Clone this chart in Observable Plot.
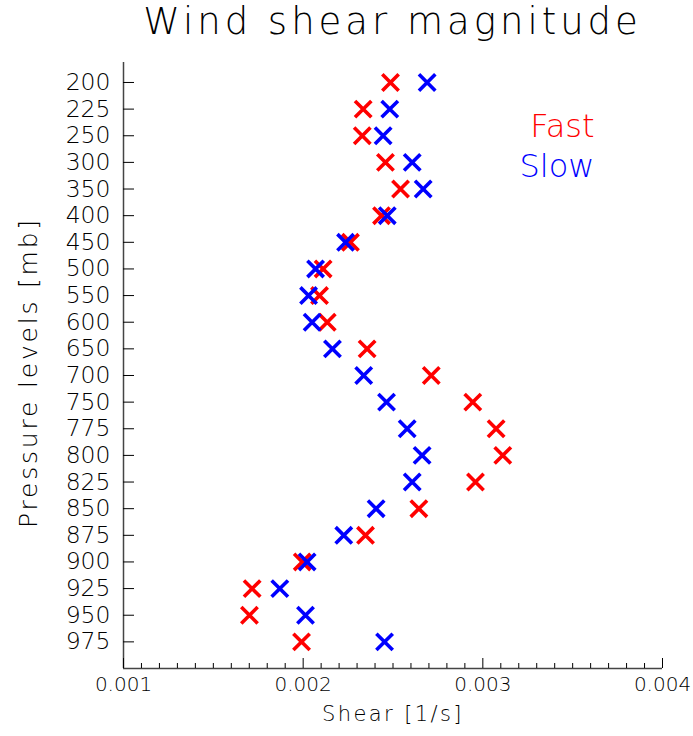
<!DOCTYPE html>
<html><head><meta charset="utf-8">
<script src="https://cdn.jsdelivr.net/npm/d3@7"></script>
<script src="https://cdn.jsdelivr.net/npm/@observablehq/plot@0.6"></script>
<style>
body{margin:0;background:#fff;}
#wrap{position:relative;width:693px;height:736px;overflow:hidden;}
#title{position:absolute;left:113px;width:559px;top:0;height:50px;text-align:center;font-family:"DejaVu Sans";font-weight:200;font-size:37px;line-height:44px;letter-spacing:4px;color:#000;}
#chart{position:absolute;top:50px;left:0;}
</style></head><body>
<div id="wrap"><div id="title">Wind shear magnitude</div><div id="chart"></div></div>
<script>
const levels = [200,225,250,300,350,400,450,500,550,600,650,700,750,775,800,825,850,875,900,925,950,975];
const fast = [0.002486,0.002334,0.002329,0.002458,0.002542,0.002436,0.002263,0.002111,0.002091,0.002134,0.002356,0.002713,0.002944,0.003074,0.003111,0.002959,0.002644,0.002347,0.001995,0.001716,0.001701,0.001991];
const slow = [0.002690,0.002482,0.002445,0.002607,0.002668,0.002468,0.002236,0.002069,0.002030,0.002050,0.002163,0.002337,0.002464,0.002579,0.002662,0.002607,0.002406,0.002226,0.002022,0.001870,0.002013,0.002453];
const xTicks = [0.001,0.002,0.003,0.004];
const xMinor = d3.range(11,40).map(k=>k/10000).filter(v=>Math.round(v*10000)%10!==0);
const seriesNames = ["Fast","Slow"];
const seriesColors = ["#ff0000","#0000ff"];

const fastRows = levels.map((p,i)=>({i, p, v: fast[i]}));
const slowRows = levels.map((p,i)=>({i, p, v: slow[i]}));
const W = 693, H = 686, mL = 123, mR = 31, mT = 12, mB = 68;
const fw = W - mL - mR, fh = H - mT - mB;

const chart = Plot.plot({
  width: W, height: H,
  marginLeft: mL, marginRight: mR, marginTop: mT, marginBottom: mB,
  style: {fontFamily: "DejaVu Sans", fontWeight: 200, background: "#fff", color: "#000"},
  x: {domain: [0.001, 0.004], axis: null},
  y: {type: "linear", domain: [-0.75, 22], reverse: true, axis: null},
  marks: [
    Plot.ruleX([0.001], {stroke: "#444", strokeWidth: 1.5}),
    Plot.ruleY([22], {stroke: "#444", strokeWidth: 1.5}),
    Plot.ruleY(levels, {y: (d,i)=>i, stroke: "#000", insetRight: fw - 11}),
    Plot.text(levels, {y: (d,i)=>i, frameAnchor: "left", dx: -13, textAnchor: "end", text: d=>String(d), fontSize: 23.5, fill: "#000"}),
    Plot.ruleX(xTicks, {x: d=>d, stroke: "#000", insetTop: fh - 10}),
    Plot.ruleX(xMinor, {x: d=>d, stroke: "#000", insetTop: fh - 5}),
    Plot.text(xTicks, {x: d=>d, frameAnchor: "bottom", dy: 22, text: d=>d3.format(".3f")(d), fontSize: 20, fill: "#000"}),
    Plot.text(["Shear [1/s]"], {frameAnchor: "bottom", textAnchor: "middle", dy: 52, fontSize: 21, fill: "#000"}),
    Plot.text(["Pressure levels [mb]"], {frameAnchor: "left", textAnchor: "middle", dx: -95, dy: 7, rotate: -90, fontSize: 25, fill: "#000"}),
    Plot.dot(fastRows, {x: "v", y: "i", symbol: "times", r: 7.5, stroke: seriesColors[0], strokeWidth: 3.6}),
    Plot.dot(slowRows, {x: "v", y: "i", symbol: "times", r: 7.5, stroke: seriesColors[1], strokeWidth: 3.6}),
    Plot.text([seriesNames[0]], {frameAnchor: "top-right", dx: -68, dy: 52, textAnchor: "end", fill: seriesColors[0], fontSize: 32}),
    Plot.text([seriesNames[1]], {frameAnchor: "top-right", dx: -68, dy: 92, textAnchor: "end", fill: seriesColors[1], fontSize: 32})
  ]
});
document.getElementById("chart").appendChild(chart);
d3.select(chart).selectAll("text").filter(function(){ return this.textContent === "Shear [1/s]"; }).style("letter-spacing", "2.4px");
d3.select(chart).selectAll("text").filter(function(){ return this.textContent === "Pressure levels [mb]"; }).style("letter-spacing", "2.8px");
</script>
</body></html>
